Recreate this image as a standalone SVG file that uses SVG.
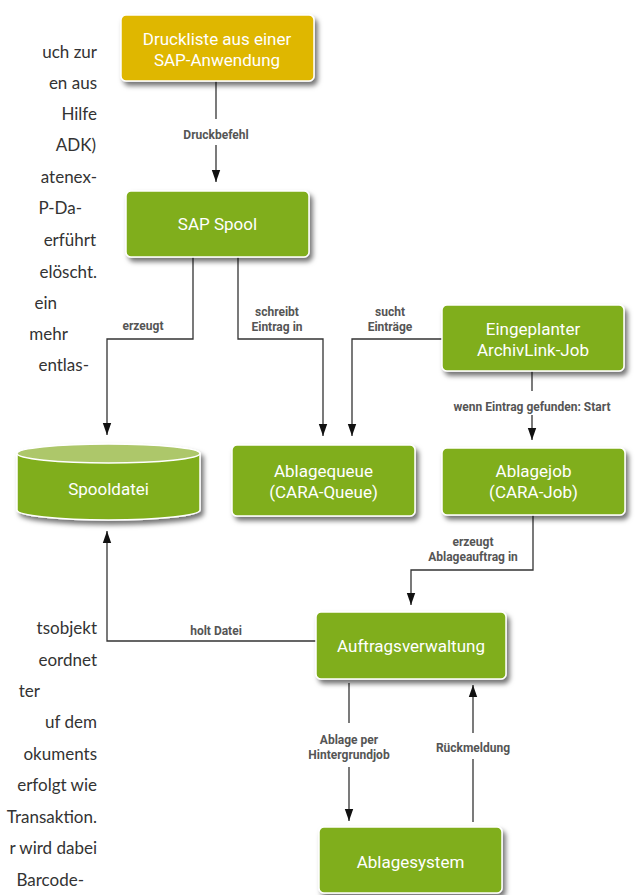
<svg xmlns="http://www.w3.org/2000/svg" width="635" height="895" viewBox="0 0 635 895">
<defs>
<filter id="sh" x="-10%" y="-20%" width="125%" height="150%">
<feDropShadow dx="3" dy="4" stdDeviation="2.5" flood-color="#000" flood-opacity="0.55"/>
</filter>
<marker id="ah" markerUnits="userSpaceOnUse" markerWidth="12" markerHeight="10" refX="12" refY="5" orient="auto">
<path d="M0,0.8 L12,5 L0,9.2 Z" fill="#111"/>
</marker>
<style>
.bg{font-family:Lato,"Open Sans","Liberation Sans",sans-serif;font-size:17px;fill:#333;text-anchor:end}
.box{stroke:#fff;stroke-width:1.5;filter:url(#sh)}
.g{fill:#80ae1a}
.y{fill:#dfb700}
.nt{font-family:Roboto,"Liberation Sans",sans-serif;font-size:17px;fill:#fff;text-anchor:middle}
.lb{font-family:Roboto,"Liberation Sans",sans-serif;font-size:12px;font-weight:bold;fill:#555;text-anchor:middle}
.c{fill:none;stroke:#333;stroke-width:1.3}
</style>
</defs>
<rect width="635" height="895" fill="#fff"/>
<g id="background-text">
<text class="bg" x="97" y="58">uch zur</text>
<text class="bg" x="97" y="89">en aus</text>
<text class="bg" x="97" y="120">Hilfe</text>
<text class="bg" x="96" y="151">ADK)</text>
<text class="bg" x="97" y="183">atenex-</text>
<text class="bg" x="82" y="214">P-Da-</text>
<text class="bg" x="96" y="246">erführt</text>
<text class="bg" x="97" y="278">elöscht.</text>
<text class="bg" x="57" y="309">ein</text>
<text class="bg" x="68" y="340">mehr</text>
<text class="bg" x="89" y="371">entlas-</text>
<text class="bg" x="97" y="634">tsobjekt</text>
<text class="bg" x="97" y="666">eordnet</text>
<text class="bg" x="40" y="697">ter</text>
<text class="bg" x="97" y="728">uf dem</text>
<text class="bg" x="97" y="760">okuments</text>
<text class="bg" x="97" y="791">erfolgt wie</text>
<text class="bg" x="97" y="823">Transaktion.</text>
<text class="bg" x="97" y="854">r wird dabei</text>
<text class="bg" x="84" y="886">Barcode-</text>
</g>
<g id="connectors">
<path class="c" d="M216,81 V119"/>
<path class="c" d="M216,145 V182" marker-end="url(#ah)"/>
<text class="lb" x="216" y="139">Druckbefehl</text>
<path class="c" d="M193,257 V339 H107 V435" marker-end="url(#ah)"/>
<text class="lb" x="143" y="330">erzeugt</text>
<path class="c" d="M238,257 V339 H323 V436" marker-end="url(#ah)"/>
<text class="lb" x="277" y="316">schreibt</text>
<text class="lb" x="277" y="331">Eintrag in</text>
<path class="c" d="M442,339 H352 V436" marker-end="url(#ah)"/>
<text class="lb" x="390" y="316">sucht</text>
<text class="lb" x="390" y="331">Einträge</text>
<path class="c" d="M532,371 V391"/>
<path class="c" d="M532,415 V440" marker-end="url(#ah)"/>
<text class="lb" x="532" y="411">wenn Eintrag gefunden: Start</text>
<path class="c" d="M533,515 V570 H411 V605" marker-end="url(#ah)"/>
<text class="lb" x="473" y="546">erzeugt</text>
<text class="lb" x="473" y="561">Ablageauftrag in</text>
<path class="c" d="M316,641 H107 V531" marker-end="url(#ah)"/>
<text class="lb" x="216" y="635">holt Datei</text>
<path class="c" d="M349,683 V723"/>
<path class="c" d="M349,767 V821" marker-end="url(#ah)"/>
<text class="lb" x="349" y="744">Ablage per</text>
<text class="lb" x="349" y="759">Hintergrundjob</text>
<path class="c" d="M473,822 V759"/>
<path class="c" d="M473,733 V685" marker-end="url(#ah)"/>
<text class="lb" x="473" y="752">Rückmeldung</text>
</g>
<g id="druckliste">
<rect class="box y" x="121" y="15" width="193" height="66" rx="5"/>
<text class="nt" x="217" y="45">Druckliste aus einer</text>
<text class="nt" x="217" y="66">SAP-Anwendung</text>
</g>
<g id="sap-spool">
<rect class="box g" x="126" y="191" width="183" height="66" rx="5"/>
<text class="nt" x="217.5" y="230">SAP Spool</text>
</g>
<g id="spooldatei">
<g filter="url(#sh)">
<path d="M17,453.5 V510 A91.5,10 0 0 0 200,510 V453.5 Z" fill="#80ae1a" stroke="#fff" stroke-width="1.5"/>
<ellipse cx="108.5" cy="453.5" rx="91.5" ry="9.5" fill="#adc76a" stroke="#fff" stroke-width="1.5"/>
</g>
<text class="nt" x="108.5" y="495">Spooldatei</text>
</g>
<g id="ablagequeue">
<rect class="box g" x="232" y="445" width="183" height="71" rx="5"/>
<text class="nt" x="323.5" y="477">Ablagequeue</text>
<text class="nt" x="323.5" y="498">(CARA-Queue)</text>
</g>
<g id="archivlink-job">
<rect class="box g" x="442" y="305" width="182" height="66" rx="5"/>
<text class="nt" x="533" y="335">Eingeplanter</text>
<text class="nt" x="533" y="356">ArchivLink-Job</text>
</g>
<g id="ablagejob">
<rect class="box g" x="442" y="448" width="183" height="67" rx="5"/>
<text class="nt" x="533.5" y="477">Ablagejob</text>
<text class="nt" x="533.5" y="498">(CARA-Job)</text>
</g>
<g id="auftragsverwaltung">
<rect class="box g" x="316" y="612" width="190" height="67" rx="5"/>
<text class="nt" x="411" y="652">Auftragsverwaltung</text>
</g>
<g id="ablagesystem">
<rect class="box g" x="319" y="827" width="183" height="66" rx="5"/>
<text class="nt" x="410.5" y="868">Ablagesystem</text>
</g>
</svg>
